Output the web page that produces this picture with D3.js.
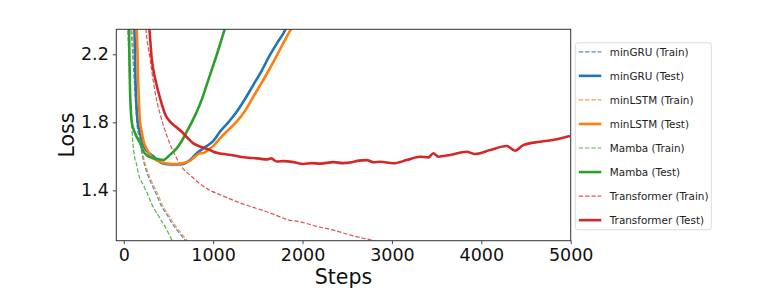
<!DOCTYPE html>
<html>
<head>
<meta charset="utf-8">
<script src="https://cdn.jsdelivr.net/npm/d3@7"></script>
<style>
  body { margin: 0; background: #fff; }
  svg { display: block; font-family: "DejaVu Sans", sans-serif; }
</style>
</head>
<body>
<div id="chart"></div>
<script>
// values: [step, loss]
const gruTrain = [[50,2.6],[100,2.2],[128,1.95],[150,1.78],[180,1.69],[210,1.6],[262,1.5],[300,1.45],[352,1.392],[425,1.304],[480,1.26],[535,1.21],[620,1.15],[690,1.105],[720,1.085]];
const gruTest = [[60,2.6],[119,2.35],[134,2.0],[156,1.806],[175,1.75],[200,1.7],[238,1.647],[280,1.62],[331,1.6],[380,1.575],[440,1.558],[520,1.553],[600,1.553],[665,1.555],[742,1.578],[817,1.618],[891,1.647],[946,1.667],[1000,1.69],[1077,1.745],[1170,1.8],[1264,1.862],[1360,1.94],[1450,2.02],[1540,2.1],[1636,2.196],[1720,2.27],[1816,2.353],[1830,2.37]];
const lstmTrain = [[60,2.6],[110,2.2],[140,1.95],[160,1.78],[190,1.69],[220,1.6],[275,1.5],[315,1.45],[369,1.392],[443,1.304],[500,1.255],[555,1.21],[640,1.15],[705,1.108],[735,1.085]];
const lstmTest = [[70,2.6],[145,2.35],[164,2.0],[182,1.806],[200,1.75],[219,1.696],[260,1.64],[331,1.588],[443,1.562],[520,1.556],[593,1.555],[680,1.562],[742,1.574],[800,1.6],[854,1.618],[891,1.62],[950,1.64],[1000,1.66],[1077,1.706],[1170,1.755],[1264,1.804],[1360,1.87],[1450,1.951],[1540,2.03],[1636,2.118],[1720,2.2],[1800,2.28],[1880,2.355],[1900,2.37]];
const mambaTrain = [[30,2.6],[55,2.2],[75,1.92],[89,1.8],[100,1.696],[120,1.6],[145,1.55],[164,1.5],[220,1.43],[257,1.39],[313,1.32],[406,1.235],[480,1.17],[537,1.11],[560,1.09]];
const mambaTest = [[40,2.6],[59,2.35],[70,2.0],[89,1.806],[110,1.76],[140,1.72],[182,1.68],[220,1.63],[260,1.605],[313,1.592],[370,1.585],[443,1.578],[500,1.6],[550,1.625],[593,1.647],[649,1.69],[705,1.745],[760,1.8],[817,1.862],[870,1.93],[928,2.02],[985,2.11],[1040,2.196],[1090,2.28],[1133,2.353],[1150,2.38]];
const transTrain = [[230,2.5],[249,2.35],[294,2.176],[350,1.98],[443,1.784],[520,1.67],[593,1.588],[660,1.53],[742,1.49],[850,1.44],[965,1.4],[1100,1.37],[1282,1.33],[1450,1.3],[1600,1.274],[1720,1.25],[1823,1.229],[1972,1.215],[2150,1.19],[2345,1.166],[2550,1.135],[2792,1.104],[2850,1.095]];
const transTest = [[260,2.5],[287,2.35],[313,2.176],[350,2.06],[387,1.98],[430,1.9],[470,1.84],[518,1.804],[580,1.775],[649,1.745],[720,1.705],[779,1.676],[870,1.655],[965,1.637],[1002,1.627],[1100,1.615],[1200,1.608],[1300,1.598],[1400,1.592],[1500,1.588],[1600,1.582],[1650,1.588],[1711,1.57],[1800,1.572],[1900,1.566],[2009,1.555],[2100,1.56],[2200,1.557],[2345,1.566],[2450,1.56],[2550,1.565],[2630,1.575],[2718,1.578],[2800,1.565],[2867,1.568],[3016,1.559],[3165,1.578],[3314,1.598],[3408,1.594],[3463,1.618],[3519,1.598],[3650,1.608],[3837,1.627],[3930,1.614],[4098,1.637],[4284,1.661],[4377,1.633],[4470,1.666],[4657,1.686],[4843,1.7],[4992,1.719]];

const xTicks = [0, 1000, 2000, 3000, 4000, 5000];
const yTicks = [1.4, 1.8, 2.2];

// series list: name, data, colour, train or test
const series = [
  { name: "minGRU (Train)", data: gruTrain, color: "#1f77b4", train: true },
  { name: "minGRU (Test)", data: gruTest, color: "#1f77b4", train: false },
  { name: "minLSTM (Train)", data: lstmTrain, color: "#ff7f0e", train: true },
  { name: "minLSTM (Test)", data: lstmTest, color: "#ff7f0e", train: false },
  { name: "Mamba (Train)", data: mambaTrain, color: "#2ca02c", train: true },
  { name: "Mamba (Test)", data: mambaTest, color: "#2ca02c", train: false },
  { name: "Transformer (Train)", data: transTrain, color: "#d62728", train: true },
  { name: "Transformer (Test)", data: transTest, color: "#d62728", train: false }
];

// dimensions
const svgWidth = 779,
    svgHeight = 297,
    margin = { top: 29.3, right: 208.3, bottom: 56.3, left: 116.3 },
    width = svgWidth - margin.left - margin.right,
    height = svgHeight - margin.top - margin.bottom;

const svg = d3.select("#chart")
    .append("svg")
    .attr("width", svgWidth)
    .attr("height", svgHeight);

const g = svg.append("g")
    .attr("transform", `translate(${margin.left},${margin.top})`);

const x = d3.scaleLinear().domain([-83, 5000]).range([0, width]);
const y = d3.scaleLinear().domain([1.104, 2.347]).range([height, 0]);

// clip lines to plot area
g.append("clipPath")
    .attr("id", "plot-clip")
    .append("rect")
    .attr("width", width)
    .attr("height", height);

const line = d3.line()
    .x(d => x(d[0]))
    .y(d => y(d[1]))
    .curve(d3.curveMonotoneX);

// train lines first, then test lines on top
const ordered = series.filter(s => s.train).concat(series.filter(s => !s.train));

g.append("g")
    .attr("clip-path", "url(#plot-clip)")
    .selectAll("path")
    .data(ordered)
    .join("path")
    .attr("d", d => line(d.data))
    .attr("fill", "none")
    .attr("stroke", d => d.color)
    .attr("stroke-opacity", d => d.train ? 0.8 : 1)
    .attr("stroke-width", d => d.train ? 1.2 : 2.6)
    .attr("stroke-dasharray", d => d.train ? "4.4,1.9" : null)
    .attr("stroke-linejoin", "round");

// axes
const xAxis = g.append("g")
    .attr("transform", `translate(0,${height})`)
    .call(d3.axisBottom(x).tickValues(xTicks).tickFormat(d3.format("d")).tickSizeInner(3.5).tickSizeOuter(0).tickPadding(4));

const yAxis = g.append("g")
    .call(d3.axisLeft(y).tickValues(yTicks).tickFormat(d3.format(".1f")).tickSizeInner(3.5).tickSizeOuter(0).tickPadding(4));

[xAxis, yAxis].forEach(ax => {
    ax.select(".domain").remove();
    ax.selectAll("line").attr("stroke", "#333").attr("stroke-width", 0.9);
    ax.selectAll("text")
        .attr("font-family", "DejaVu Sans, sans-serif")
        .attr("font-size", 17.5)
        .attr("fill", "#111");
});

// frame
g.append("rect")
    .attr("width", width)
    .attr("height", height)
    .attr("fill", "none")
    .attr("stroke", "#333")
    .attr("stroke-width", 1);

// axis labels
svg.append("text")
    .attr("x", margin.left + width / 2)
    .attr("y", 283.5)
    .attr("text-anchor", "middle")
    .attr("font-size", 20.5)
    .attr("fill", "#111")
    .text("Steps");

svg.append("text")
    .attr("transform", `translate(73.5,${margin.top + height / 2}) rotate(-90)`)
    .attr("text-anchor", "middle")
    .attr("font-size", 20.5)
    .attr("fill", "#111")
    .text("Loss");

// legend
const legend = svg.append("g").attr("transform", "translate(575.3,42.8)");

legend.append("rect")
    .attr("width", 136)
    .attr("height", 187)
    .attr("rx", 2.5)
    .attr("fill", "#fff")
    .attr("fill-opacity", 0.8)
    .attr("stroke", "#d8d8d8")
    .attr("stroke-width", 0.9);

const rows = legend.selectAll("g.row")
    .data(series)
    .join("g")
    .attr("class", "row")
    .attr("transform", (d, i) => `translate(0,${9 + i * 24.05})`);

rows.append("line")
    .attr("x1", 3.5)
    .attr("x2", 26)
    .attr("stroke", d => d.color)
    .attr("stroke-opacity", d => d.train ? 0.8 : 1)
    .attr("stroke-width", d => d.train ? 1.2 : 2.6)
    .attr("stroke-dasharray", d => d.train ? "4.4,1.9" : null);

rows.append("text")
    .attr("x", 34.5)
    .attr("y", 3.8)
    .attr("font-size", 10.4)
    .attr("fill", "#222")
    .text(d => d.name);
</script>
</body>
</html>
